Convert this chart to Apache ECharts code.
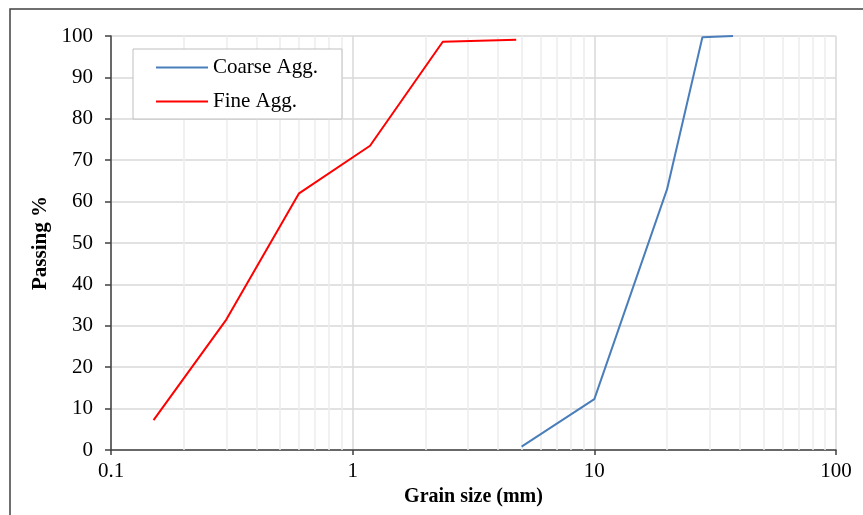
<!DOCTYPE html>
<html>
<head>
<meta charset="utf-8">
<script src="https://cdn.jsdelivr.net/npm/echarts@6/dist/echarts.min.js"></script>
<style>
  html, body { margin: 0; padding: 0; background: #fff; }
  #chart { width: 863px; height: 515px; }
</style>
</head>
<body>
<div id="chart"></div>
<script>
// Sieve analysis: grain size (mm) vs. cumulative passing (%)
const coarseSizes = [5, 10, 20, 28, 37.5];
const coarsePassing = [0.8, 12.3, 63, 99.7, 100];
const fineSizes = [0.15, 0.3, 0.6, 1.18, 2.36, 4.75];
const finePassing = [7.2, 31.5, 62, 73.5, 98.6, 99.1];

// log-axis minor grid positions between decades
const minorGrid = [0.2, 0.3, 0.4, 0.5, 0.6, 0.7, 0.8, 0.9,
                   2, 3, 4, 5, 6, 7, 8, 9,
                   20, 30, 40, 50, 60, 70, 80, 90];
const xTickLabels = ['0.1', '1', '10', '100'];

const font = '"Liberation Serif", "Times New Roman", serif';
const pair = (xs, ys) => xs.map((x, i) => [x, ys[i]]);

const chart = echarts.init(document.getElementById('chart'), null, { renderer: 'canvas' });

chart.setOption({
  animation: false,
  backgroundColor: '#fff',
  textStyle: { fontFamily: font },
  graphic: [{
    type: 'rect',
    shape: { x: 10, y: 9, width: 870, height: 530 },
    style: { fill: 'none', stroke: '#404040', lineWidth: 1.5 },
    silent: true,
    z: -1
  }],
  grid: { left: 111, right: 27, top: 36, bottom: 65 },
  legend: {
    orient: 'vertical',
    left: 133,
    top: 49,
    padding: [8, 24, 7, 23],
    itemGap: 13,
    itemWidth: 52,
    itemHeight: 2,
    icon: 'rect',
    backgroundColor: '#fff',
    borderColor: '#bfbfbf',
    borderWidth: 1,
    textStyle: { fontFamily: font, fontSize: 21, lineHeight: 21, color: '#000', padding: [0, 0, 0, 0] },
    data: ['Coarse Agg.', 'Fine Agg.']
  },
  xAxis: {
    type: 'log',
    logBase: 10,
    min: 0.1,
    max: 100,
    name: 'Grain size (mm)',
    nameLocation: 'middle',
    nameGap: 32,
    nameTextStyle: { fontFamily: font, fontSize: 20, fontWeight: 'bold', color: '#000', verticalAlign: 'top' },
    axisLine: { show: true, lineStyle: { color: '#404040', width: 1.5 } },
    axisTick: { show: true, inside: false, length: 5, lineStyle: { color: '#404040', width: 1.5 } },
    axisLabel: {
      margin: 11,
      fontFamily: font,
      fontSize: 21,
      color: '#000',
      formatter: v => {
        const e = Math.round(Math.log10(v));
        return xTickLabels[e + 1] !== undefined ? xTickLabels[e + 1] : String(v);
      }
    },
    splitLine: { show: true, lineStyle: { color: '#d9d9d9', width: 1.5 } }
  },
  yAxis: {
    type: 'value',
    min: 0,
    max: 100,
    interval: 10,
    name: 'Passing %',
    nameLocation: 'middle',
    nameGap: 58,
    nameRotate: 90,
    nameTextStyle: { fontFamily: font, fontSize: 21, fontWeight: 'bold', color: '#000' },
    axisLine: { show: true, lineStyle: { color: '#404040', width: 1.5 } },
    axisTick: { show: true, inside: false, length: 6, lineStyle: { color: '#404040', width: 1.5 } },
    axisLabel: { margin: 18, fontFamily: font, fontSize: 21, color: '#000' },
    splitLine: { show: true, lineStyle: { color: '#d9d9d9', width: 1.5 } }
  },
  series: [
    {
      name: 'minor-grid',
      type: 'line',
      data: [],
      silent: true,
      z: 1,
      markLine: {
        silent: true,
        z: 1,
        symbol: 'none',
        label: { show: false },
        lineStyle: { color: '#ececec', width: 1.5, type: 'solid' },
        data: minorGrid.map(v => ({ xAxis: v }))
      }
    },
    {
      name: 'Coarse Agg.',
      type: 'line',
      data: pair(coarseSizes, coarsePassing),
      symbol: 'none',
      z: 3,
      itemStyle: { color: '#4a7ebb' },
      lineStyle: { color: '#4a7ebb', width: 2 }
    },
    {
      name: 'Fine Agg.',
      type: 'line',
      data: pair(fineSizes, finePassing),
      symbol: 'none',
      z: 3,
      itemStyle: { color: '#ff0000' },
      lineStyle: { color: '#ff0000', width: 2 }
    }
  ]
});
</script>
</body>
</html>
